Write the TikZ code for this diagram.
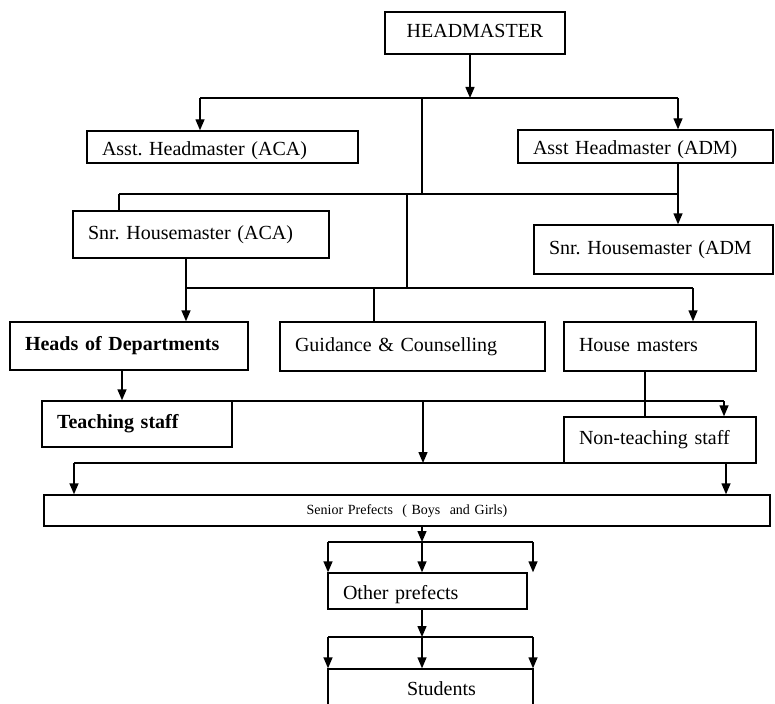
\documentclass[tikz,border=0pt]{standalone}
\usepackage{fontspec}
\setmainfont{Liberation Serif}
\usetikzlibrary{arrows.meta}
\frenchspacing
\tikzset{
  box/.style={draw, line width=1.4pt, inner xsep=15pt, inner ysep=0pt, text height=13pt, text depth=4pt, align=left, font=\fontsize{20}{22}\selectfont},
  lowtext/.style={text height=17pt, text depth=0pt},
  conn/.style={line width=1.4pt},
  arr/.style={line width=1.4pt, -{Triangle[width=9pt,length=11pt]}},
}
\newcommand\bx[7]{%
  \pgfmathsetmacro\bxw{#4-#2-30}%
  \pgfmathsetmacro\bxh{#5-#3}%
  \pgfmathsetmacro\bxx{(#2+#4)/2}%
  \pgfmathsetmacro\bxy{(#3+#5)/2}%
  \node[box, text width=\bxw pt, minimum height=\bxh pt, #6] (#1) at (\bxx,\bxy) {#7};}
\begin{document}
\begin{tikzpicture}[x=1pt,y=-1pt]
\useasboundingbox (0,0) rectangle (775,703);
% boxes
\bx{HM}{385}{12}{565}{54}{align=center}{HEADMASTER}
\bx{AA}{87}{131}{358}{163}{lowtext}{Asst. Headmaster (ACA)}
\bx{AD}{518}{130}{773}{163}{lowtext}{Asst Headmaster (ADM)}
\bx{SA}{73}{211}{329}{258}{}{Snr. Housemaster (ACA)}
\bx{SD}{534}{225}{773}{274}{}{Snr. Housemaster (ADM}
\bx{HD}{10}{322}{248}{370}{font=\fontsize{20}{22}\selectfont\bfseries}{Heads of Departments}
\bx{GC}{280}{322}{545}{371}{}{Guidance \& Counselling}
\bx{HMs}{564}{322}{756}{371}{}{House masters}
\bx{TS}{42}{401}{232}{447}{font=\fontsize{20}{22}\selectfont\bfseries}{Teaching staff}
\bx{NT}{564}{417}{756}{463}{}{Non-teaching staff}
\bx{SP}{44}{495}{770}{526}{align=center, font=\fontsize{14}{16}\selectfont, text height=10pt, text depth=3pt}{Senior Prefects~ ( Boys~ and Girls)}
\bx{OP}{328}{573}{527}{609}{lowtext}{Other prefects}
\bx{ST}{328}{669}{533}{712}{}{\hspace*{64pt}Students}
% level 1
\coordinate (j1) at (470,98);
\coordinate (L1) at (200,98);
\coordinate (R1) at (678,98);
\coordinate (M1) at (422,98);
\draw[arr] (j1 |- HM.south) -- (j1);
\draw[conn] (L1) -- (R1);
\draw[arr] (L1) -- (L1 |- AA.north);
\draw[arr] (R1) -- (R1 |- AD.north);
% level 2
\coordinate (L2) at (119,194);
\coordinate (R2) at (678,194);
\coordinate (M2) at (422,194);
\coordinate (M2b) at (407,194);
\draw[conn] (M1) -- (M2);
\draw[conn] (L2) -- (R2);
\draw[conn] (L2) -- (L2 |- SA.north);
\draw[arr] (R2 |- AD.south) -- (R2 |- SD.north);
% level 3
\coordinate (L3) at (186,288);
\coordinate (C3) at (374,288);
\coordinate (R3) at (693,288);
\draw[conn] (M2b) -- (M2b |- L3);
\draw[arr] (L3 |- SA.south) -- (L3 |- HD.north);
\draw[conn] (L3) -- (R3);
\draw[conn] (C3) -- (C3 |- GC.north);
\draw[arr] (R3) -- (R3 |- HMs.north);
% level 4
\coordinate (L4) at (122,401);
\coordinate (C4) at (423,401);
\coordinate (R4) at (724,401);
\coordinate (V4) at (645,401);
\draw[arr] (L4 |- HD.south) -- (L4 |- TS.north);
\draw[conn] (L4) -- (R4);
\draw[arr] (R4) -- (R4 |- NT.north);
\draw[conn] (V4 |- HMs.south) -- (V4 |- NT.north);
% level 5
\coordinate (L5) at (74,463);
\coordinate (C5) at (423,463);
\coordinate (R5) at (726,463);
\coordinate (E5) at (756,463);
\draw[arr] (C4) -- (C5);
\draw[conn] (L5) -- (E5);
\draw[arr] (L5) -- (L5 |- SP.north);
\draw[arr] (R5) -- (R5 |- SP.north);
% level 6
\coordinate (L6) at (328,542);
\coordinate (C6) at (422,542);
\coordinate (R6) at (533,542);
\draw[arr] (C6 |- SP.south) -- (C6);
\draw[conn] (L6) -- (R6);
\draw[arr] (L6) -- (L6 |- OP.north);
\draw[arr] (C6) -- (C6 |- OP.north);
\draw[arr] (R6) -- (R6 |- OP.north);
% level 7
\coordinate (L7) at (328,637);
\coordinate (C7) at (422,637);
\coordinate (R7) at (533,637);
\draw[arr] (C7 |- OP.south) -- (C7);
\draw[conn] (L7) -- (R7);
\draw[arr] (L7) -- (L7 |- ST.north);
\draw[arr] (C7) -- (C7 |- ST.north);
\draw[arr] (R7) -- (R7 |- ST.north);
\end{tikzpicture}
\end{document}
